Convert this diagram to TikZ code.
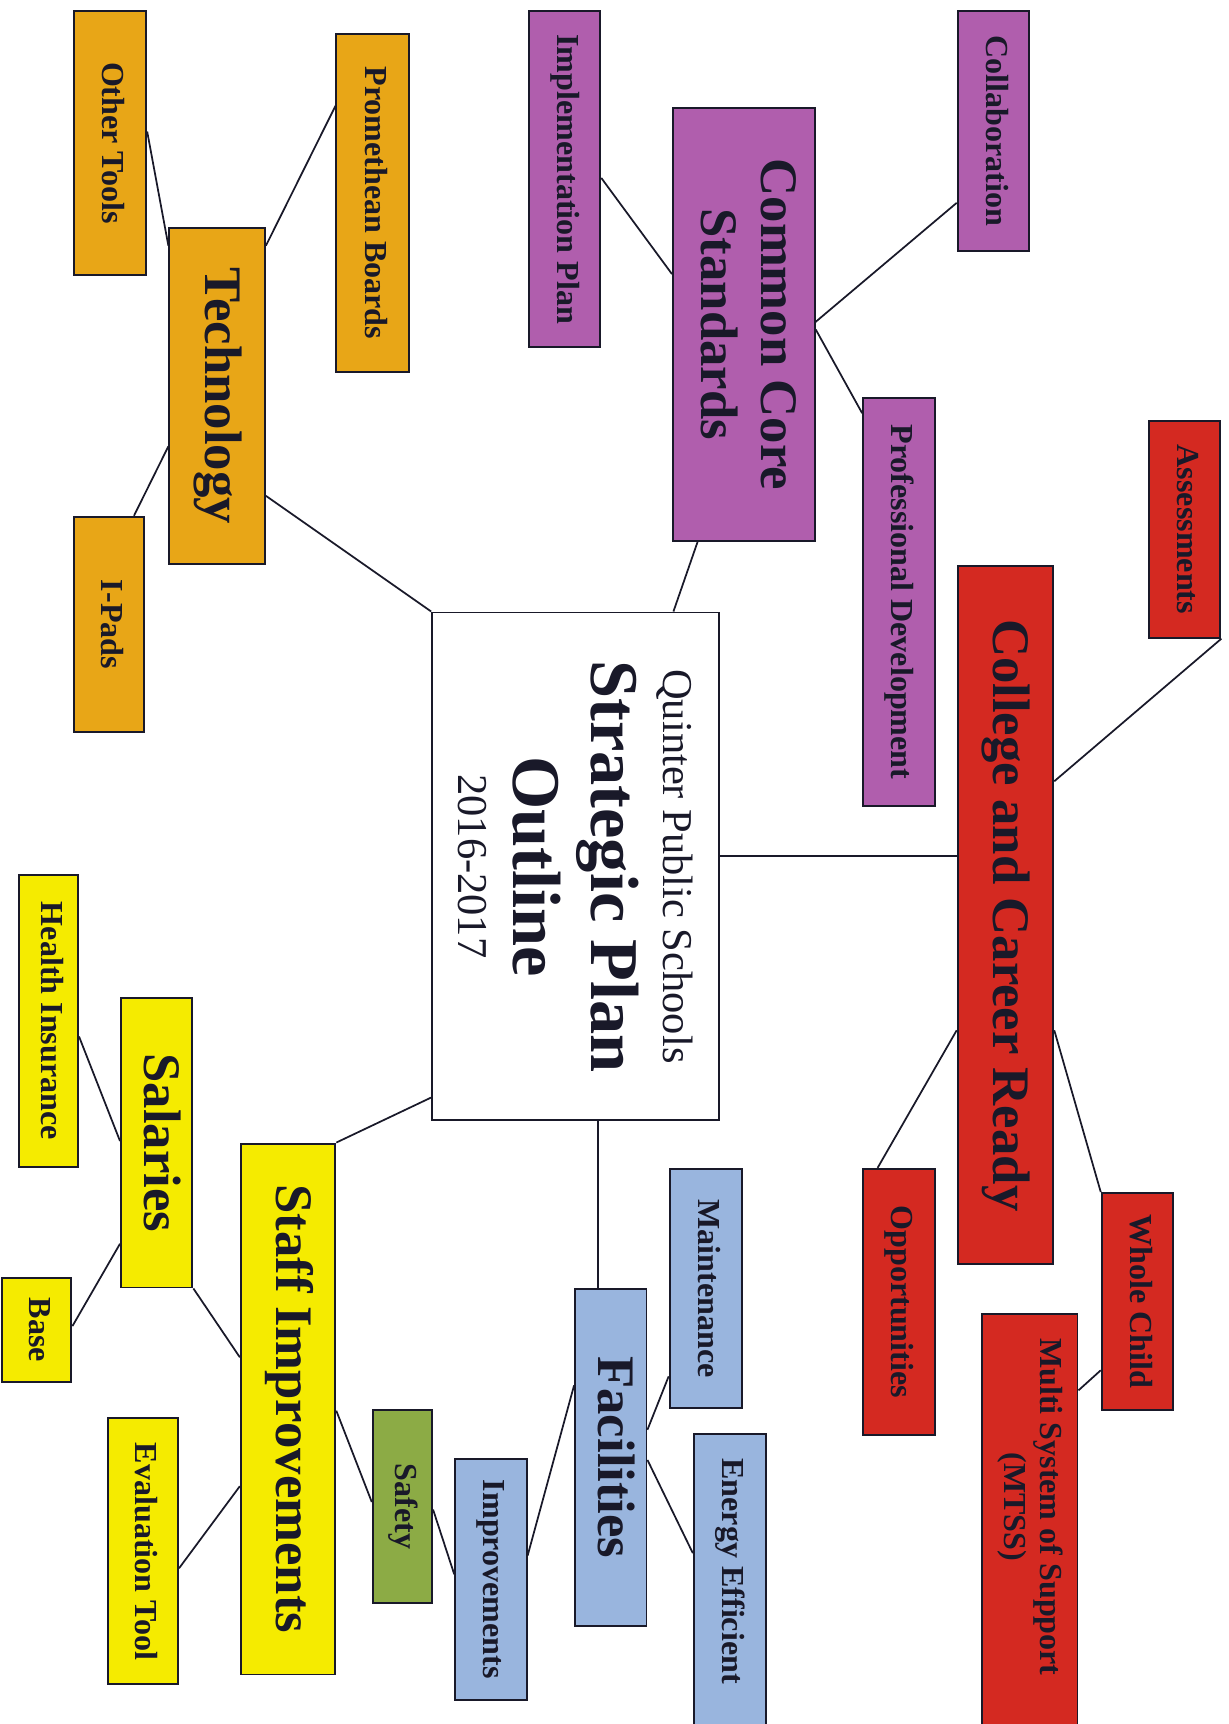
\documentclass[tikz,border=0pt]{standalone}
\usepackage{fontspec}
\setmainfont{Liberation Serif}
\usepackage{graphicx}
\usepackage{xcolor}
\usepackage{tikz}

\definecolor{techorange}{rgb}{0.91,0.65,0.09}
\definecolor{corepurple}{rgb}{0.69,0.37,0.68}
\definecolor{readyred}{rgb}{0.83,0.16,0.13}
\definecolor{facblue}{rgb}{0.60,0.71,0.87}
\definecolor{safegreen}{rgb}{0.55,0.67,0.27}
\definecolor{staffyellow}{rgb}{0.96,0.92,0.00}
\definecolor{inkdark}{rgb}{0.10,0.10,0.16}

\newcommand{\vtext}[2][0pt]{\rotatebox{-90}{\begin{tabular}{@{}c@{}}#2\end{tabular}\hspace{#1}}}

\begin{document}
\begin{tikzpicture}[x=0.02cm, y=-0.02cm,
      hub/.style={draw=inkdark, fill=white, line width=1pt, inner sep=0pt,
                  minimum width=5.22cm, minimum height=9.24cm, text=inkdark},
      branch/.style={draw=inkdark, line width=1pt, inner sep=0pt, text=inkdark,
                     font=\fontsize{27.3}{31}\selectfont\bfseries},
      leaf/.style={draw=inkdark, line width=1pt, inner sep=0pt, text=inkdark,
                   font=\fontsize{16.6}{18.5}\selectfont\bfseries},
      link/.style={line width=0.9pt, draw=inkdark}
  ]
    \fill[white] (0,0) rectangle (1117,1568);
    \useasboundingbox (0,0) rectangle (1117,1568);

    % centre
    \node[hub] (plan) at (523.5,788) {\rotatebox{-90}{\parbox{8.6cm}{\centering
        \fontsize{22}{26}\selectfont Quinter Public Schools\par
        \fontsize{35.4}{37.3}\selectfont\bfseries Strategic Plan\par
        \fontsize{35.4}{40.4}\selectfont Outline\par
        \fontsize{22}{28.4}\selectfont\mdseries 2016-2017\par}}};

    % technology
    \node[branch, fill=techorange, minimum width=1.74cm, minimum height=6.12cm] (tech) at (197.5,360) {\vtext{Technology}};
    \node[leaf, fill=techorange, minimum width=1.32cm, minimum height=4.80cm] (other) at (100,130) {\vtext{Other Tools}};
    \node[leaf, fill=techorange, minimum width=1.32cm, minimum height=6.14cm] (prom) at (339,184.5) {\vtext{Promethean Boards}};
    \node[leaf, fill=techorange, minimum width=1.28cm, minimum height=3.92cm] (ipads) at (99,568) {\vtext{I-Pads}};

    % common core
    \node[branch, fill=corepurple, minimum width=2.58cm, minimum height=7.88cm] (core) at (676.5,295) {\vtext{Common Core\\Standards}};
    \node[leaf, fill=corepurple, minimum width=1.30cm, minimum height=6.12cm] (impl) at (513.5,163) {\vtext{Implementation Plan}};
    \node[leaf, fill=corepurple, minimum width=1.30cm, minimum height=4.36cm] (collab) at (903.5,119) {\vtext{Collaboration}};
    \node[leaf, fill=corepurple, minimum width=1.30cm, minimum height=7.42cm] (profdev) at (817.5,547.5) {\vtext{Professional Development}};

    % college and career
    \node[branch, fill=readyred, minimum width=1.74cm, minimum height=12.70cm] (ready) at (914.5,832.5) {\vtext{College and Career Ready}};
    \node[leaf, fill=readyred, minimum width=1.30cm, minimum height=3.94cm] (assess) at (1077.5,481.5) {\vtext{Assessments}};
    \node[leaf, fill=readyred, minimum width=1.30cm, minimum height=4.84cm] (opps) at (817.5,1184) {\vtext{Opportunities}};
    \node[leaf, fill=readyred, minimum width=1.30cm, minimum height=3.94cm] (whole) at (1034.5,1183.5) {\vtext{Whole Child}};
    \node[leaf, fill=readyred, minimum width=1.74cm, minimum height=7.66cm] (mtss) at (936.5,1386.5) {\vtext[0.64cm]{Multi System of Support\\(MTSS)}};

    % facilities
    \node[branch, fill=facblue, minimum width=1.30cm, minimum height=6.14cm] (fac) at (555.5,1325.5) {\vtext{Facilities}};
    \node[leaf, fill=facblue, minimum width=1.32cm, minimum height=4.36cm] (maint) at (642,1172) {\vtext{Maintenance}};
    \node[leaf, fill=facblue, minimum width=1.32cm, minimum height=5.48cm] (energy) at (664,1441) {\vtext[0.48cm]{Energy Efficient}};
    \node[leaf, fill=facblue, minimum width=1.30cm, minimum height=4.38cm] (impr) at (446.5,1436.5) {\vtext{Improvements}};
    \node[leaf, fill=safegreen, minimum width=1.08cm, minimum height=3.52cm] (safety) at (366,1370) {\vtext{Safety}};

    % staff
    \node[branch, fill=staffyellow, minimum width=1.72cm, minimum height=9.66cm] (staff) at (262,1281.5) {\vtext{Staff Improvements}};
    \node[branch, fill=staffyellow, minimum width=1.30cm, minimum height=5.26cm] (sal) at (142.5,1039.5) {\vtext{Salaries}};
    \node[leaf, fill=staffyellow, minimum width=1.08cm, minimum height=5.30cm] (health) at (44,928.5) {\vtext{Health Insurance}};
    \node[leaf, fill=staffyellow, minimum width=1.26cm, minimum height=1.90cm] (base) at (33.5,1209.5) {\vtext{Base}};
    \node[leaf, fill=staffyellow, minimum width=1.28cm, minimum height=4.84cm] (evalt) at (130,1411) {\vtext{Evaluation Tool}};

    % links
    \draw[link] (tech.108) -- (other.17);
    \draw[link] (tech.72) -- (prom.111);
    \draw[link] (tech.-134) -- (ipads.77);
    \draw[link] (tech.-64) -- (plan.north west);
    \draw[link] (core.145) -- (impl.2);
    \draw[link] (core.2) -- (collab.-117);
    \draw[link] (core.-4) -- (profdev.101);
    \draw[link] (plan.69) -- (core.-102);
    \draw[link] (plan.4) -- (plan.4 -| ready.west);
    \draw[link] (ready.70) -- (assess.south east);
    \draw[link] (ready.-113) -- (opps.99);
    \draw[link] (ready.-67) -- (whole.north west);
    \draw[link] (whole.-118) -- (mtss.70);
    \draw[link] (plan.-85) -- (plan.-85 |- fac.north);
    \draw[link] (fac.37) -- (maint.-113);
    \draw[link] (fac.-4) -- (energy.140);
    \draw[link] (fac.117) -- (impr.33);
    \draw[link] (impr.172) -- (safety.-6);
    \draw[link] (staff.-2) -- (safety.172);
    \draw[link] (plan.-122) -- (staff.north east);
    \draw[link] (staff.133) -- (sal.south east);
    \draw[link] (staff.-122) -- (evalt.-25);
    \draw[link] (sal.177) -- (health.-27);
    \draw[link] (sal.-110) -- (base.6);
  \end{tikzpicture}
\end{document}
